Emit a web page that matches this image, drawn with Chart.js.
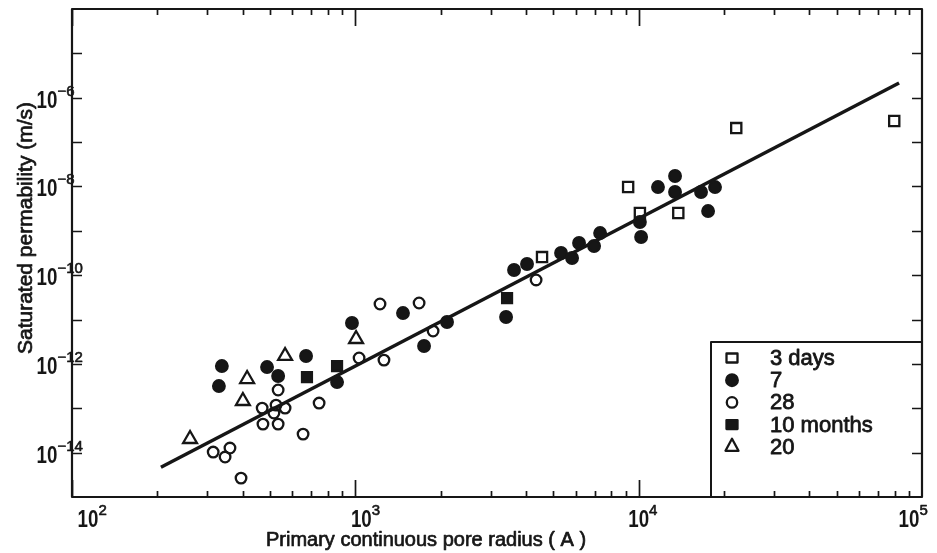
<!DOCTYPE html>
<html>
<head>
<meta charset="utf-8">
<script src="https://cdn.jsdelivr.net/npm/chart.js@4.4.1/dist/chart.umd.min.js"></script>
<style>
  html, body { margin: 0; padding: 0; background: #fff; }
  canvas { display: block; }
</style>
</head>
<body>
<canvas id="permChart" width="937" height="553"></canvas>
<script>
// pore radius (A) against saturated permeability (m/s), one pair of arrays per curing age
const days3X = [4560, 9180, 10100, 13800, 22100, 79800];
const days3Y = [2.56e-10, 9.7e-9, 2.52e-9, 2.52e-9, 2.07e-7, 2.98e-7];

const days7X = [338, 330, 488, 534, 670, 862, 973, 1473, 1748, 2107, 3404, 3632, 4036,
  5322, 5820, 6160, 6960, 7310, 10100, 10200, 11700, 13440, 13440, 16600, 18600, 17580];
const days7Y = [8.95e-13, 3.17e-13, 8.5e-13, 5.33e-13, 1.51e-12, 3.9e-13, 8.35e-12, 1.4e-11,
  2.53e-12, 8.8e-12, 1.14e-11, 1.31e-10, 1.79e-10, 3.16e-10, 2.44e-10, 5.31e-10, 4.54e-10,
  8.9e-10, 1.58e-9, 7.25e-10, 9.7e-9, 1.72e-8, 7.5e-9, 7.5e-9, 9.7e-9, 2.79e-9];

const days28X = [534, 469, 525, 565, 516, 472, 534, 654, 745, 1031, 1262, 1222, 1679, 1881,
  4345, 315, 361, 347, 395];
const days28Y = [2.58e-13, 1.01e-13, 1.18e-13, 1.01e-13, 7.8e-14, 4.4e-14, 4.4e-14, 2.62e-14,
  1.31e-13, 1.36e-12, 1.22e-12, 2.24e-11, 2.36e-11, 5.5e-12, 7.8e-11, 1.03e-14, 1.27e-14,
  7.96e-15, 2.67e-15];

const months10X = [675, 862, 3432];
const months10Y = [5.06e-13, 8.95e-13, 3.05e-11];

const months20X = [261, 401, 415, 565, 1006];
const months20Y = [2.03e-14, 1.46e-13, 4.56e-13, 1.51e-12, 3.64e-12];

// regression line end points
const fitX = [206, 83000];
const fitY = [4.7e-15, 2.15e-6];

const seriesLabels = ['3 days', '7', '28', '10 months', '20'];
const xLabelExps = [2, 3, 4, 5];
const yLabelExps = [-6, -8, -10, -12, -14];
const xTitle = 'Primary continuous pore radius ( A )';
const yTitle = 'Saturated permability (m/s)';

const INK = '#161616';
const FONT = '"Liberation Sans", Arial, sans-serif';
const pts = (xs, ys) => xs.map((v, i) => ({ x: v, y: ys[i] }));

function markerSet(label, xs, ys, style, filled, radius) {
  return {
    label,
    data: pts(xs, ys),
    pointStyle: style,
    pointRadius: radius,
    pointBorderWidth: 2.3,
    pointBorderColor: INK,
    pointBackgroundColor: filled ? INK : 'rgba(0,0,0,0)',
    showLine: false
  };
}

const datasets = [
  markerSet(seriesLabels[0], days3X, days3Y, 'rect', false, 7.2),
  markerSet(seriesLabels[1], days7X, days7Y, 'circle', true, 5.8),
  markerSet(seriesLabels[2], days28X, days28Y, 'circle', false, 5.3),
  markerSet(seriesLabels[3], months10X, months10Y, 'rect', true, 7),
  markerSet(seriesLabels[4], months20X, months20Y, 'triangle', false, 8),
  {
    label: 'fit',
    data: pts(fitX, fitY),
    showLine: true,
    borderColor: INK,
    borderWidth: 3.5,
    pointRadius: 0,
    fill: false
  }
];

// filled text with a thin outline, for the heavy pen lettering
function inkText(ctx, s, x, y, weight) {
  ctx.fillText(s, x, y);
  ctx.lineWidth = weight;
  ctx.strokeText(s, x, y);
}

// "10" with a raised exponent, condensed like the lettering
function drawPower(ctx, exp, cx, baseY, size) {
  const base = '10';
  const sup = String(exp).replace('-', '\u2212');
  ctx.font = 'bold ' + size + 'px ' + FONT;
  const squeeze = 0.78;
  const w = ctx.measureText(base).width * squeeze;
  ctx.save();
  ctx.translate(cx - w / 2, baseY);
  ctx.scale(squeeze, 1);
  ctx.textAlign = 'left';
  ctx.textBaseline = 'alphabetic';
  ctx.fillText(base, 0, 0);
  ctx.restore();
  ctx.font = Math.round(size * 0.62) + 'px ' + FONT;
  ctx.textAlign = 'left';
  ctx.textBaseline = 'alphabetic';
  inkText(ctx, sup, cx + w / 2, baseY - size * 0.5, 0.6);
}

function drawMarker(ctx, style, filled, x, y) {
  ctx.beginPath();
  if (style === 'circle') {
    ctx.arc(x, y, filled ? 5.8 : 5.2, 0, Math.PI * 2);
  } else if (style === 'rect') {
    ctx.rect(x - 5.5, y - 4.5, 11, 9);
  } else {
    ctx.moveTo(x, y - 8);
    ctx.lineTo(x + 6.5, y + 4);
    ctx.lineTo(x - 6.5, y + 4);
    ctx.closePath();
  }
  if (filled) ctx.fill();
  ctx.stroke();
}

const axisDecor = {
  id: 'axisDecor',
  afterDraw(chart) {
    const { ctx, chartArea: a, scales: { x, y } } = chart;
    ctx.save();
    ctx.strokeStyle = INK;
    ctx.fillStyle = INK;
    ctx.lineJoin = 'round';

    // frame
    ctx.lineWidth = 2.2;
    ctx.strokeRect(a.left, a.top, a.right - a.left, a.bottom - a.top);

    // log ticks on bottom and top, pointing inward
    ctx.lineWidth = 1.7;
    ctx.beginPath();
    for (let d = 2; d < 5; d++) {
      for (let k = 1; k < 10; k++) {
        const px = Math.round(x.getPixelForValue(k * Math.pow(10, d))) + 0.5;
        const len = k === 1 ? 17 : 6;
        ctx.moveTo(px, a.bottom); ctx.lineTo(px, a.bottom - len);
        ctx.moveTo(px, a.top); ctx.lineTo(px, a.top + len);
      }
    }
    // decade ticks on left and right
    for (let e = -14; e <= -5; e++) {
      const py = Math.round(y.getPixelForValue(Math.pow(10, e))) + 0.5;
      ctx.moveTo(a.left, py); ctx.lineTo(a.left + 10, py);
      ctx.moveTo(a.right, py); ctx.lineTo(a.right - 10, py);
    }
    ctx.stroke();

    // tick labels
    const xShift = [16, 6, 0, -13];
    xLabelExps.forEach((e, i) => {
      const px = x.getPixelForValue(Math.pow(10, e));
      drawPower(ctx, e, px + xShift[i], a.bottom + 30, 24);
    });
    yLabelExps.forEach(e => {
      const py = y.getPixelForValue(Math.pow(10, e));
      drawPower(ctx, e, a.left - 25, py + 10, 24);
    });

    // axis titles
    ctx.font = '20px ' + FONT;
    ctx.textAlign = 'center';
    ctx.textBaseline = 'middle';
    inkText(ctx, xTitle, 426, 540, 0.7);
    ctx.save();
    ctx.translate(26, 228);
    ctx.rotate(-Math.PI / 2);
    ctx.font = '21px ' + FONT;
    inkText(ctx, yTitle, 0, 0, 0.7);
    ctx.restore();

    // legend box in the lower right corner
    const boxLeft = 711, boxTop = 342;
    ctx.lineWidth = 2;
    ctx.beginPath();
    ctx.moveTo(a.right, boxTop);
    ctx.lineTo(boxLeft, boxTop);
    ctx.lineTo(boxLeft, a.bottom);
    ctx.stroke();

    const styles = [['rect', false], ['circle', true], ['circle', false], ['rect', true], ['triangle', false]];
    seriesLabels.forEach((lab, i) => {
      const ry = 358 + i * 22.2;
      ctx.lineWidth = 2.3;
      drawMarker(ctx, styles[i][0], styles[i][1], 732, ry);
      ctx.font = '22px ' + FONT;
      ctx.textAlign = 'left';
      ctx.textBaseline = 'middle';
      inkText(ctx, lab, 770, ry + 1, 0.8);
    });
    ctx.restore();
  }
};

new Chart(document.getElementById('permChart').getContext('2d'), {
  type: 'scatter',
  data: { datasets },
  options: {
    responsive: false,
    animation: false,
    events: [],
    layout: { padding: { top: 9, right: 15, left: 0, bottom: 0 }, autoPadding: false },
    plugins: { legend: { display: false }, tooltip: { enabled: false } },
    scales: {
      x: {
        type: 'logarithmic',
        min: 100,
        max: 100000,
        grid: { display: false, drawTicks: false },
        border: { display: false },
        ticks: { display: false },
        afterFit: s => { s.height = 56; }
      },
      y: {
        type: 'logarithmic',
        min: 1e-15,
        max: 1e-4,
        grid: { display: false, drawTicks: false },
        border: { display: false },
        ticks: { display: false },
        afterFit: s => { s.width = 72; }
      }
    }
  },
  plugins: [axisDecor]
});
</script>
</body>
</html>
